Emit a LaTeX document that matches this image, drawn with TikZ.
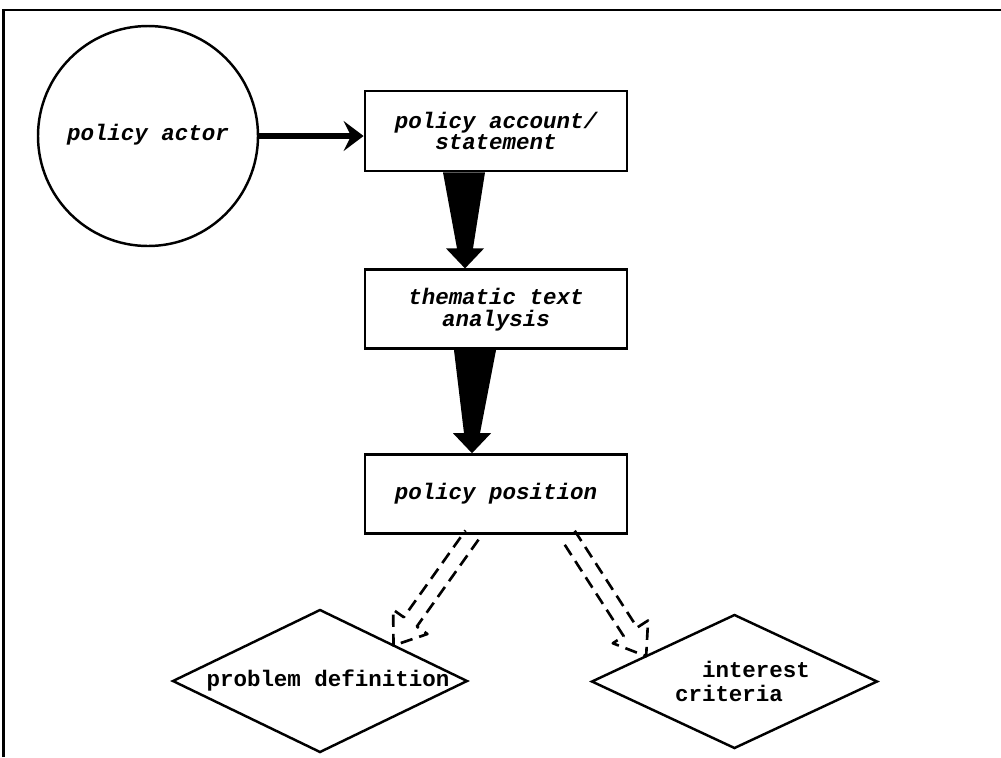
\documentclass[tikz,border=0pt]{standalone}
\usepackage{fontspec}
\newfontfamily\typefont{Liberation Mono}
\usetikzlibrary{arrows.meta,positioning,calc,shapes.geometric}

\newcommand{\boxfont}{\typefont\bfseries\itshape\fontsize{12.8}{12.4}\selectfont}
\newcommand{\diafont}{\typefont\bfseries\fontsize{12.8}{13.6}\selectfont}
% black tapered arrow
\newcommand{\wedgearrow}[2]{%
  \fill ($(#1)+(-0.42,0)$) -- ($(#1)+(0.42,0)$) -- ($(#2)+(0.16,0.4)$) -- ($(#2)+(0.38,0.4)$)
    -- (#2) -- ($(#2)+(-0.38,0.4)$) -- ($(#2)+(-0.16,0.4)$) -- cycle;}
% dashed outline arrow
\newcommand{\hollowarrow}[2]{%
  \coordinate (ha-h) at ($(#2)!0.58cm!(#1)$);
  \draw[hollow] ($(#1)!0.16cm!90:(#2)$) -- ($(ha-h)!0.16cm!-90:(#1)$) -- ($(ha-h)!0.42cm!-90:(#1)$) -- (#2)
    -- ($(ha-h)!0.42cm!90:(#1)$) -- ($(ha-h)!0.16cm!90:(#1)$) -- ($(#1)!0.16cm!-90:(#2)$);}

\begin{document}
\begin{tikzpicture}[
box/.style={draw,line width=1.6pt,align=center,minimum width=5.24cm,minimum height=1.58cm,font=\boxfont},
dia/.style={draw,diamond,line width=1.4pt,inner sep=0pt,outer sep=0pt},
dtext/.style={font=\diafont,align=left},
flow/.style={-{Stealth[length=4mm,width=6mm,inset=1.5mm]},line width=3.2pt},
hollow/.style={line width=1.5pt,dash pattern=on 7pt off 4pt,line join=round},
frame/.style={line width=1.6pt}]
\useasboundingbox (0,0) rectangle (20.02,-15.14);
\draw[frame] (0.07,-15.14) |- (20.02,-0.2);

\node[circle,draw,line width=1.4pt,minimum size=4.4cm,font=\boxfont] (actor) at (2.96,-2.72) {\raisebox{0.15cm}{policy actor}};
\node[box,minimum height=1.6cm] (acct) at (9.92,-2.62) {policy account/\\statement};
\node[box,below=1.92cm of acct] (theme) {thematic text\\analysis};
\node[box,below=2.06cm of theme] (pos) {policy position};
\node[dia,minimum width=5.88cm,minimum height=2.84cm,label={[dtext,xshift=0.16cm]center:problem definition}] (prob) at (6.40,-13.62) {};
\node[dia,minimum width=5.70cm,minimum height=2.66cm,label={[dtext,xshift=0.16cm]center:{\phantom{cr}interest\\criteria}}] (crit) at (14.69,-13.63) {};

\draw[flow] (actor.east) -- (actor.east -| acct.west);

\coordinate (w1s) at ([xshift=-0.64cm]acct.south);
\coordinate (w1t) at ([xshift=-0.62cm]theme.north);
\wedgearrow{w1s}{w1t}
\coordinate (w2s) at ([xshift=-0.42cm]theme.south);
\coordinate (w2t) at ([xshift=-0.48cm]pos.north);
\wedgearrow{w2s}{w2t}

\coordinate (h1s) at ([xshift=-0.48cm]pos.south);
\coordinate (h1t) at ($(prob.north)!0.5!(prob.east)$);
\hollowarrow{h1s}{h1t}
\coordinate (h2s) at ([xshift=1.44cm]pos.south);
\coordinate (h2t) at ($(crit.west)!0.38!(crit.north)$);
\hollowarrow{h2s}{h2t}
\end{tikzpicture}
\end{document}
